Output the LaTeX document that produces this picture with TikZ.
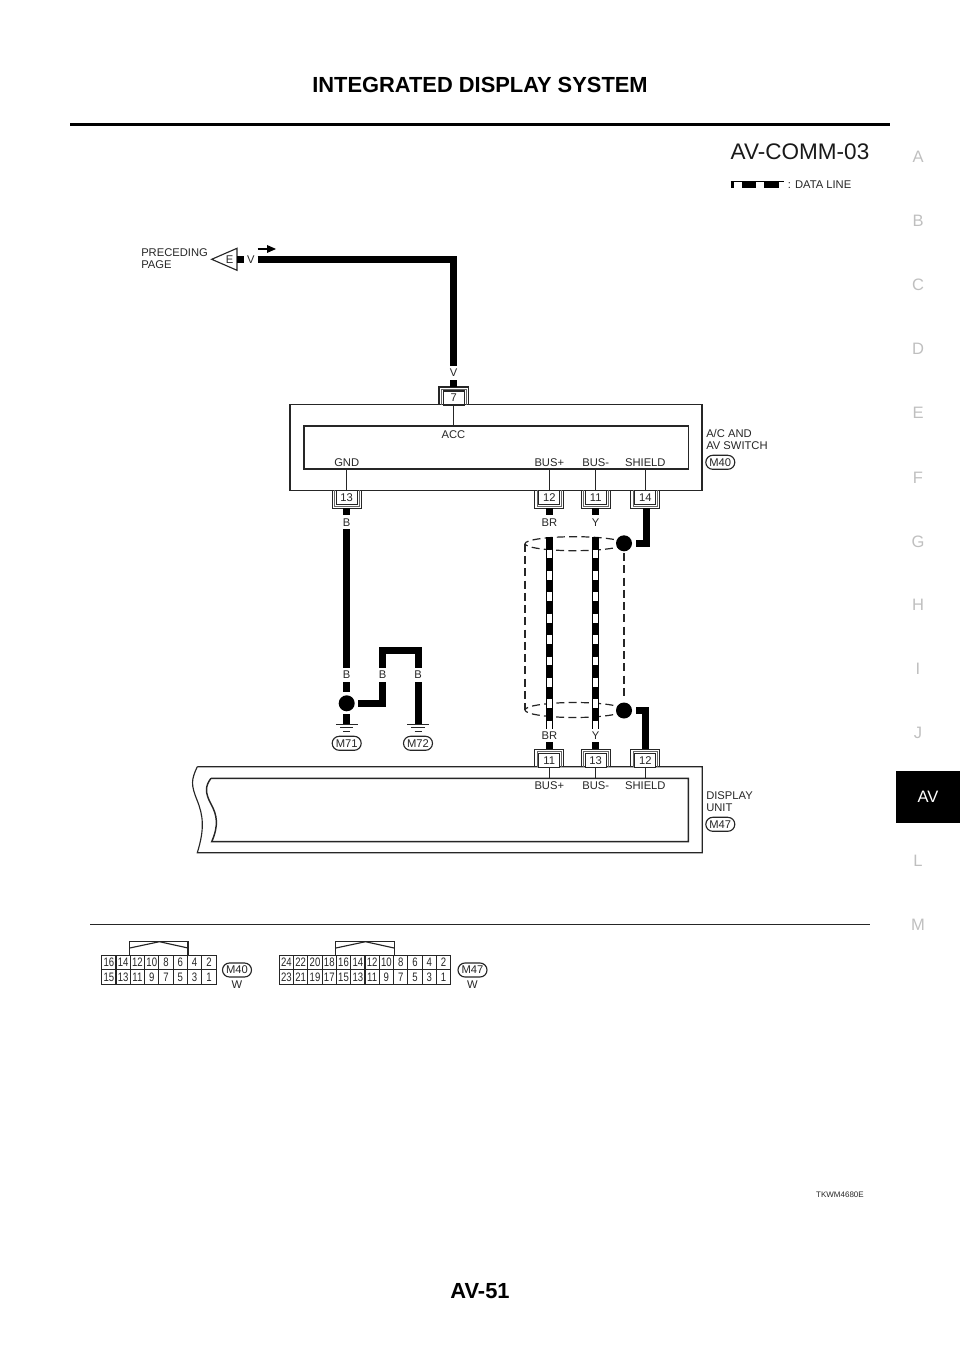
\documentclass[tikz,border=0pt]{standalone}
\usepackage{fontspec}
\usepackage{tikz}
\usetikzlibrary{shapes.misc,calc}
\setmainfont{Liberation Sans}
\newfontfamily\cellfont[FakeStretch=0.78]{Liberation Sans}

\begin{document}
\begin{tikzpicture}[x=0.75pt,y=0.75pt,yscale=-1,xscale=1,
    txt/.style={font=\fontsize{8.4}{8.5}\selectfont,inner sep=0pt,text=black!85,align=left},
    tabtxt/.style={font=\fontsize{12.4}{13}\selectfont,inner sep=0pt,text=black!25},
    unitline/.style={draw=black!85,line width=1.1pt},
    thinline/.style={draw=black!85,line width=0.85pt},
    wire/.style={draw=black,line width=5.25pt},
    datawire/.style={wire,postaction={draw=white,line width=4pt,dash pattern=on 6.65pt off 9.4pt,dash phase=6.65pt}},
    shield/.style={draw=black!85,line width=0.9pt,dash pattern=on 6pt off 3.2pt},
    pinbox/.style={draw=black!85,line width=0.85pt,fill=white,minimum width=15.75pt,minimum height=10.5pt,inner sep=0pt,font=\fontsize{8.4}{9}\selectfont,text=black!85},
    tagbox/.style={draw=black!85,line width=0.85pt,rounded rectangle,minimum width=21.75pt,minimum height=10.5pt,inner sep=0pt,font=\fontsize{8.4}{9}\selectfont,text=black!85},
    cellbox/.style={draw=black!85,line width=0.8pt,minimum width=10.7pt,minimum height=10.9pt,inner sep=0pt,font=\cellfont\fontsize{9.2}{10}\selectfont,text=black!85},
    dotjoint/.style={circle,fill=black,minimum size=12pt,inner sep=0pt}]
    \useasboundingbox (0,0) rectangle (960,1358);

    % Page head
    \node [inner sep=0pt,font=\bfseries\fontsize{16.4}{18}\selectfont] (headtitle) at (480,85) {INTEGRATED DISPLAY SYSTEM};
    \coordinate (headL) at (70,124.5);
    \coordinate (headR) at (890,124.5);
    \draw [line width=2.2pt] (headL) -- (headR);
    \node [inner sep=0pt,font=\fontsize{16.9}{19}\selectfont,text=black!90] (diagname) at (800,152) {AV-COMM-03};

    % Legend
    \coordinate (legL) at (730.7,185);
    \coordinate (legR) at (784,185);
    \draw [wire,line width=5.25pt,postaction={draw=white,line width=4pt,dash pattern=on 6pt off 10.9pt,dash phase=14.5pt}] (legL) -- (legR);
    \node [txt,anchor=west] (legtxt) at (787.5,185) {: DATA LINE};

    % Side tabs
    \foreach \l/\ty in {A/157,B/221,C/285,D/349,E/413,F/478,G/542,H/605,I/669,J/733,L/861,M/925}
      \node [tabtxt] (tab\l) at (918,\ty) {\l};
    \node [fill=black,text=white,minimum width=48pt,minimum height=39pt,inner sep=0pt,font=\fontsize{12.4}{13}\selectfont] (tabAV) at (928,797) {AV};

    % Preceding page
    \node [txt,anchor=west] (prevtxt) at (141,258.5) {PRECEDING\\PAGE};
    \coordinate (triTip) at (211.7,259.3);
    \coordinate (triTop) at (237,248.3);
    \coordinate (triBot) at (237,270.3);
    \draw [thinline] (triTip) -- (triTop) -- (triBot) -- cycle;
    \node [txt] (triE) at (229.5,259.5) {E};
    \coordinate (stubA) at (237,259.3);
    \coordinate (stubB) at (244,259.3);
    \draw [wire] (stubA) -- (stubB);
    \node [txt] (wireV1) at (250.8,259.5) {V};
    \coordinate (arrA) at (257.7,249);
    \coordinate (arrB) at (267,249);
    \coordinate (arrC) at (276,249);
    \draw [line width=0.8pt] (arrA) -- (arrB);
    \fill (arrC) -- (267,245) -- (267,253) -- cycle;

    % V wire
    \coordinate (vA) at (257.7,259.3);
    \coordinate (vB) at (453.7,259.3);
    \coordinate (vC) at (453.7,366);
    \draw [wire] (vA) -- (vB) -- (vC);
    \node [txt] (wireV2) at (453.5,373) {V};

    % A/C and AV switch
    \node [draw=black!85,line width=1.1pt,minimum width=309pt,minimum height=64.2pt,inner sep=0pt] (acunit) at (496.15,447.5) {};
    \node [draw=black!85,line width=1.1pt,minimum width=288.2pt,minimum height=32.2pt,inner sep=0pt] (acinner) at (496.15,447.5) {};
    \node [txt,anchor=west] (actxt) at (706,439.5) {A/C AND\\AV SWITCH};
    \node [tagbox] (tagM40) at (720.3,462.3) {M40};
    \node [txt] (accpin) at (453.5,434.5) {ACC};
    \node [txt] (gndpin) at (346.7,462.3) {GND};
    \node [txt] (busppin) at (549.3,462.3) {BUS+};
    \node [txt] (busmpin) at (595.7,462.3) {BUS-};
    \node [txt] (shdpin) at (645.3,462.3) {SHIELD};

    % Connector pins, top side
    \draw [line width=1pt,draw=black!85] (439,404.5) -- (439,387) -- (468.5,387) -- (468.5,404.5);
    \draw [line width=0.5pt,draw=black!60] (441.3,404.5) -- (441.3,389.3) -- (466.2,389.3) -- (466.2,404.5);
    \node [pinbox] (pin7) at (453.7,398) {7};
    \draw [thinline] (pin7.south) -- (pin7.south |- acinner.north);
    \coordinate (pin7w) at (453.7,380);
    \coordinate (pin7e) at (453.7,387);
    \draw [wire] (pin7w) -- (pin7e);
    \foreach \n/\px in {13/346.7,12/549.3,11/595.7,14/645.3} {
      \draw [line width=1pt,draw=black!85] (\px-14.5,490.3) -- (\px-14.5,508.3) -- (\px+14.5,508.3) -- (\px+14.5,490.3);
      \draw [line width=0.5pt,draw=black!60] (\px-12.2,490.3) -- (\px-12.2,506) -- (\px+12.2,506) -- (\px+12.2,490.3);
      \node [pinbox] (pin\n) at (\px,497.5) {\n};
      \draw [thinline] (pin\n.north |- acunit.south) -- (pin\n.north |- acinner.south);
    }
    \foreach \n/\px in {13/346.7,12/549.3,11/595.7} {
      \coordinate (stub\n a) at (\px,508.3);
      \coordinate (stub\n b) at (\px,515);
      \draw [wire] (stub\n a) -- (stub\n b);
    }

    % Shield
    \node [draw=none,minimum width=0pt,inner sep=0pt] (shdtop) at (574.5,543.7) {};
    \node [draw=none,minimum width=0pt,inner sep=0pt] (shdbot) at (574.5,710) {};
    \draw [shield] (shdtop) ellipse (49.5 and 7);
    \draw [shield] (shdbot) ellipse (49.5 and 7.5);
    \draw [shield] (525,543.7) -- (525,710);
    \draw [shield] (624,553) -- (624,700);
    \node [dotjoint] (dotS1) at (624,543.3) {};
    \node [dotjoint] (dotS2) at (624,710.5) {};

    % Data lines
    \node [txt] (wireBR1) at (549.3,522.7) {BR};
    \node [txt] (wireY1) at (595.7,522.7) {Y};
    \node [txt] (wireBR2) at (549.3,735.7) {BR};
    \node [txt] (wireY2) at (595.7,735.7) {Y};
    \coordinate (brA) at (549.3,537);
    \coordinate (brB) at (549.3,729);
    \coordinate (yA) at (595.7,537);
    \coordinate (yB) at (595.7,729);
    \draw [datawire] (brA) -- (brB);
    \draw [datawire] (yA) -- (yB);

    % Shield wires
    \coordinate (shA) at (646,508.3);
    \coordinate (shB) at (646,543.3);
    \coordinate (shC) at (635.7,543.3);
    \draw [wire] (shA) -- (shB) -- (shC);
    \coordinate (shD) at (645.7,749.3);
    \coordinate (shE) at (645.7,710.3);
    \coordinate (shF) at (635.7,710.3);
    \draw [wire] (shD) -- (shE) -- (shF);

    % Ground wires
    \node [txt] (wireB1) at (346.7,522.7) {B};
    \node [txt] (wireB2) at (346.7,675) {B};
    \node [txt] (wireB3) at (382.5,675) {B};
    \node [txt] (wireB4) at (418,675) {B};
    \coordinate (bA) at (346.7,529);
    \coordinate (bB) at (346.7,667.7);
    \draw [wire] (bA) -- (bB);
    \coordinate (bC) at (346.7,682.3);
    \coordinate (bD) at (346.7,692);
    \draw [wire] (bC) -- (bD);
    \node [dotjoint] (dotG) at (346.7,703.3) {};
    \coordinate (bE) at (346.7,714.3);
    \coordinate (gnd1) at (346.7,724.5);
    \draw [wire] (bE) -- (gnd1);
    \coordinate (bF) at (358.3,703.3);
    \coordinate (bG) at (382.5,703.3);
    \coordinate (bH) at (382.5,682.3);
    \draw [wire] (bF) -- (bG) -- (bH);
    \coordinate (bI) at (382.5,667.7);
    \coordinate (bJ) at (382.5,650);
    \coordinate (bK) at (418,650);
    \coordinate (bL) at (418,667.7);
    \draw [wire] (bI) -- (bJ) -- (bK) -- (bL);
    \coordinate (bM) at (418,682.3);
    \coordinate (gnd2) at (418,724.5);
    \draw [wire] (bM) -- (gnd2);
    \foreach \g in {gnd1,gnd2} {
      \draw [thinline] ($(\g)+(-10.8,0)$) -- ($(\g)+(10.8,0)$);
      \draw [thinline] ($(\g)+(-6.7,3.4)$) -- ($(\g)+(6.7,3.4)$);
      \draw [thinline] ($(\g)+(-3.5,7.2)$) -- ($(\g)+(3.5,7.2)$);
    }
    \node [tagbox] (tagM71) at (346.7,743.3) {M71};
    \node [tagbox] (tagM72) at (418,743.3) {M72};

    % Display unit
    \draw [thinline] (197.3,766.7) -- (702.3,766.7) -- (702.3,852.7) -- (197.3,852.7)
        .. controls (205,828) and (203,815) .. (197,800) .. controls (191,785) and (191,780) .. (197.3,766.7);
    \draw [unitline] (211,778.3) -- (688.3,778.3) -- (688.3,841.7) -- (211.7,841.7)
        .. controls (219,825) and (217,815) .. (211,804) .. controls (205,793) and (205,786) .. (211,778.3);
    \node [txt,anchor=west] (dutxt) at (706,801.7) {DISPLAY\\UNIT};
    \node [tagbox] (tagM47) at (720.3,824.3) {M47};
    \node [txt] (busp2) at (549.3,785.5) {BUS+};
    \node [txt] (busm2) at (595.7,785.5) {BUS-};
    \node [txt] (shd2) at (645.3,785.5) {SHIELD};

    % Connector pins, lower side
    \foreach \n/\px in {11/549.3,13/595.7,12/645.3} {
      \draw [line width=1pt,draw=black!85] (\px-14.5,766.7) -- (\px-14.5,749.3) -- (\px+14.5,749.3) -- (\px+14.5,766.7);
      \draw [line width=0.5pt,draw=black!60] (\px-12.2,766.7) -- (\px-12.2,751.6) -- (\px+12.2,751.6) -- (\px+12.2,766.7);
      \node [pinbox] (low\n) at (\px,760.5) {\n};
      \draw [thinline] (low\n.south) -- (low\n.south |- 0,778.3);
    }
    \foreach \n/\px in {11/549.3,13/595.7} {
      \coordinate (low\n a) at (\px,742.3);
      \coordinate (low\n b) at (\px,749.3);
      \draw [wire] (low\n a) -- (low\n b);
    }

    % Lower rule
    \coordinate (ruleL) at (90,924);
    \coordinate (ruleR) at (870,924);
    \draw [line width=0.75pt,draw=black!85] (ruleL) -- (ruleR);

    % Connector M40
    \foreach \n [count=\i] in {16,14,12,10,8,6,4,2}
      \node [cellbox] (ma\n) at (101.7+14.3*\i-7.15,962.5) {\n};
    \foreach \n [count=\i] in {15,13,11,9,7,5,3,1}
      \node [cellbox] (mb\n) at (101.7+14.3*\i-7.15,977) {\n};
    \draw [thinline] (ma12.north west) -- ++(0,-13.3) -| (ma6.north east);
    \draw [thinline] ($(ma12.north west)+(0,-6.7)$) -- ($(ma10.north east)+(0,-13)$) -- ($(ma6.north east)+(0,-6.7)$);
    \node [tagbox] (tagM40b) at (237,970) {M40};
    \node [txt] (colM40) at (237,985) {W};

    % Connector M47
    \foreach \n [count=\i] in {24,22,20,18,16,14,12,10,8,6,4,2}
      \node [cellbox] (na\n) at (279.3+14.28*\i-7.14,962.5) {\n};
    \foreach \n [count=\i] in {23,21,19,17,15,13,11,9,7,5,3,1}
      \node [cellbox] (nb\n) at (279.3+14.28*\i-7.14,977) {\n};
    \draw [thinline] (na16.north west) -- ++(0,-13.3) -| (na10.north east);
    \draw [thinline] ($(na16.north west)+(0,-6.7)$) -- ($(na14.north east)+(0,-13)$) -- ($(na10.north east)+(0,-6.7)$);
    \node [tagbox] (tagM47b) at (472.5,970) {M47};
    \node [txt] (colM47) at (472.5,985) {W};

    % Page foot
    \node [inner sep=0pt,font=\fontsize{6}{7}\selectfont,anchor=east,text=black!85] (drawno) at (864,1195) {TKWM4680E};
    \node [inner sep=0pt,font=\bfseries\fontsize{16.4}{18}\selectfont] (pageno) at (480,1291) {AV-51};
\end{tikzpicture}
\end{document}
